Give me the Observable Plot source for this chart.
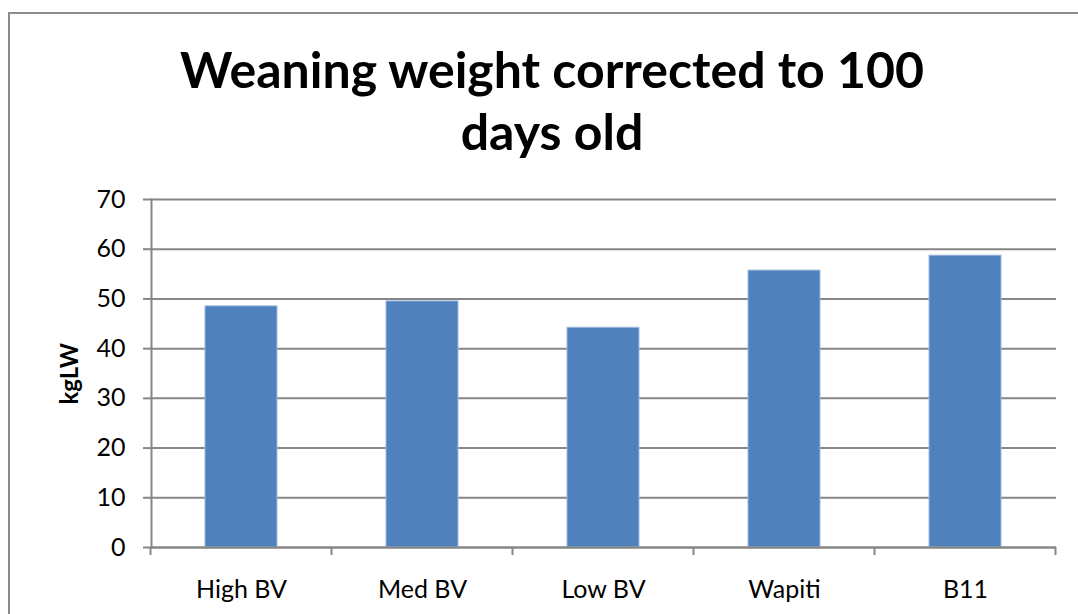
<!DOCTYPE html>
<html>
<head>
<meta charset="utf-8">
<script src="https://cdn.jsdelivr.net/npm/d3@7"></script>
<script src="https://cdn.jsdelivr.net/npm/@observablehq/plot@0.6"></script>
<style>
  body { margin: 0; background: #fff; overflow: hidden; }
  #frame { position: absolute; left: 8px; top: 12px; width: 1200px; height: 800px; border: 2px solid #8c8c8c; }
  #chart { position: absolute; left: 0; top: 0; }
</style>
</head>
<body>
<div id="frame"></div>
<div id="chart"></div>
<script>
const categories = ["High BV", "Med BV", "Low BV", "Wapiti", "B11"];
const values = [48.5, 49.5, 44.2, 55.7, 58.7];
const yTicks = [0, 10, 20, 30, 40, 50, 60, 70];
const titleLines = ["Weaning weight corrected to 100", "days old"];
const yLabel = "kgLW";

const data = categories.map((c, i) => ({category: c, value: values[i]}));
const gray = "#868686";

const plot = Plot.plot({
  width: 1078,
  height: 614,
  marginLeft: 151,
  marginRight: 22,
  marginTop: 199,
  marginBottom: 67,
  style: {fontFamily: "Lato", background: "transparent", color: "#000"},
  x: {domain: categories, paddingInner: 0.6, paddingOuter: 0.3, label: null},
  y: {domain: [0, 70], label: null},
  marks: [
    Plot.gridY(yTicks, {stroke: gray, strokeOpacity: 1, strokeWidth: 2}),
    Plot.barY(data, {x: "category", y: "value", fill: "#4F81BD", stroke: "#9DB9DC", strokeWidth: 1}),
    Plot.ruleY([0], {stroke: gray, strokeWidth: 2}),
    Plot.frame({anchor: "left", stroke: gray, strokeWidth: 2}),
    Plot.axisY({ticks: yTicks, tickSize: 8, tickPadding: 18, fontSize: 25, stroke: gray, strokeWidth: 2, label: null}),
    Plot.axisX({tickSize: 0, tickPadding: 33, fontSize: 25, label: null}),
    Plot.text([yLabel], {frameAnchor: "left", dx: -81, dy: 31, rotate: -90, fontSize: 24, fontWeight: "bold", fill: "#000"}),
    Plot.text([titleLines[0]], {frameAnchor: "top", dx: -52, dy: -112, lineAnchor: "bottom", fontSize: 50, fontWeight: "bold", fill: "#000"}),
    Plot.text([titleLines[1]], {frameAnchor: "top", dx: -52, dy: -50, lineAnchor: "bottom", fontSize: 50, fontWeight: "bold", fill: "#000"})
  ]
});

// category boundary ticks on the x axis, from the library's band scale
const xs = plot.scale("x");
const ys = plot.scale("y");
const y0 = ys.apply(0);
const gap = (xs.step - xs.bandwidth) / 2;
const bounds = categories.map(c => xs.apply(c) - gap);
bounds.push(xs.apply(categories[categories.length - 1]) + xs.bandwidth + gap);
d3.select(plot).append("g")
  .selectAll("line").data(bounds).join("line")
  .attr("x1", d => d).attr("x2", d => d)
  .attr("y1", y0).attr("y2", y0 + 8)
  .attr("stroke", gray).attr("stroke-width", 2);

document.getElementById("chart").appendChild(plot);
</script>
</body>
</html>
